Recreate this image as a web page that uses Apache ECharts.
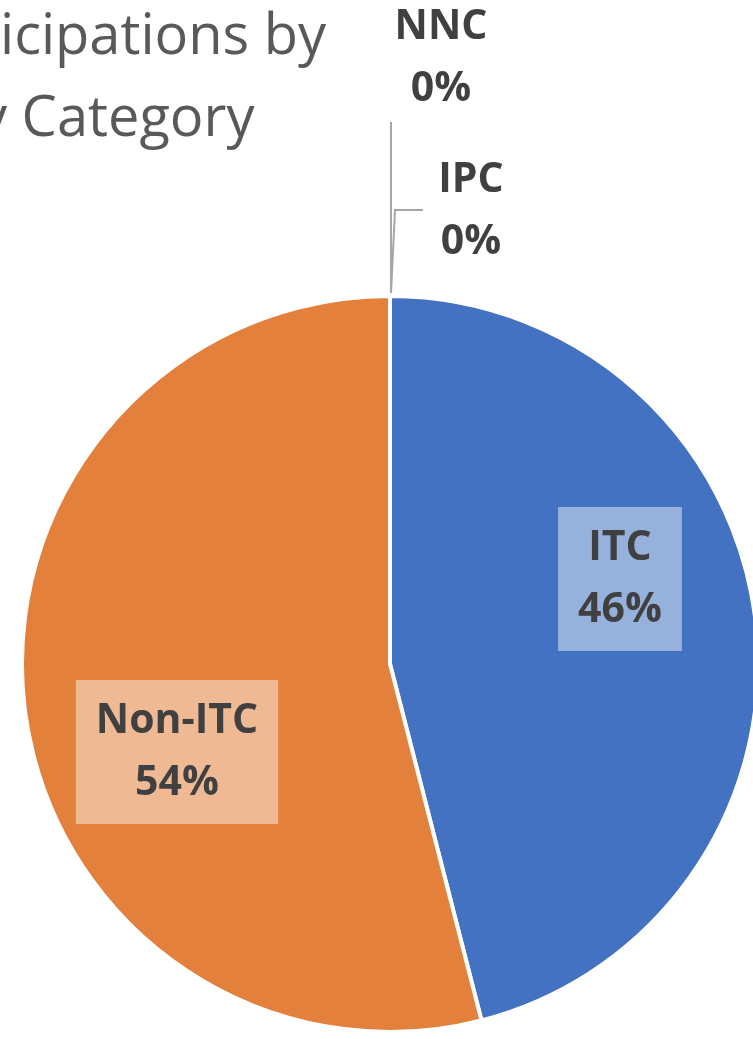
<!DOCTYPE html>
<html>
<head>
<meta charset="utf-8">
<script src="https://cdn.jsdelivr.net/npm/echarts@6/dist/echarts.min.js"></script>
<style>
    html, body { margin: 0; padding: 0; background: #fff; }
    #chart { width: 753px; height: 1039px; }
</style>
</head>
<body>
<div id="chart"></div>
<script>
// slices, clockwise from 12 o'clock
const categories = ["ITC", "Non-ITC", "IPC", "NNC"];
const values = [46, 54, 0, 0];
const sliceColors = ["#4372C2", "#E2803C", "#A5A5A5", "#FFC000"];

// title is cut off at the left edge in the reference
const titleLines = ["icipations by", "y Category"];

// where each data label sits (Excel-style placement)
const labelSpots = {
    "ITC": { x: 620, y: 579 },
    "Non-ITC": { x: 177, y: 752 },
    "IPC": { x: 471, y: 211, line: [[391, 293], [395, 210], [423, 210]] },
    "NNC": { x: 441, y: 58, line: [[391, 293], [391, 122], [391, 122]] },
};

const chart = echarts.init(document.getElementById("chart"), null, { renderer: "canvas" });

const boxLabel = (bg) => ({
    show: true,
    position: "inside",
    backgroundColor: bg,
    padding: [10, 20],
});

const titleFont = '56px "Open Sans"';

const option = {
    animation: false,
    graphic: [
        {
            type: "text",
            x: 0,
            y: 10,
            style: { text: titleLines[0], font: titleFont, fill: "#595959", verticalAlign: "top" },
        },
        {
            type: "text",
            x: -21,
            y: 92,
            style: { text: titleLines[1], font: titleFont, fill: "#595959", verticalAlign: "top" },
        },
    ],
    series: [
        {
            type: "pie",
            center: [390, 664],
            radius: 368,
            startAngle: 90,
            clockwise: true,
            avoidLabelOverlap: false,
            emphasis: { disabled: true },
            itemStyle: { borderColor: "#fff", borderWidth: 4 },
            label: {
                color: "#404040",
                fontFamily: "Open Sans",
                fontWeight: "bold",
                fontSize: 41,
                lineHeight: 62,
                align: "center",
                formatter: (p) => `${p.name}\n${Math.round(p.percent)}%`,
            },
            labelLine: {
                show: true,
                lineStyle: { color: "#A6A6A6", width: 2 },
            },
            labelLayout: (params) => {
                const spot = labelSpots[categories[params.dataIndex]];
                const out = { x: spot.x, y: spot.y, align: "center", verticalAlign: "middle" };
                if (spot.line) out.labelLinePoints = spot.line;
                return out;
            },
            data: categories.map((name, i) => {
                const item = { name: name, value: values[i], itemStyle: { color: sliceColors[i] } };
                if (i < 2) {
                    item.label = boxLabel("rgba(255,255,255,0.45)");
                    item.labelLine = { show: false };
                } else {
                    item.label = { show: true, position: "outside" };
                }
                return item;
            }),
        },
    ],
};

chart.setOption(option);
</script>
</body>
</html>
